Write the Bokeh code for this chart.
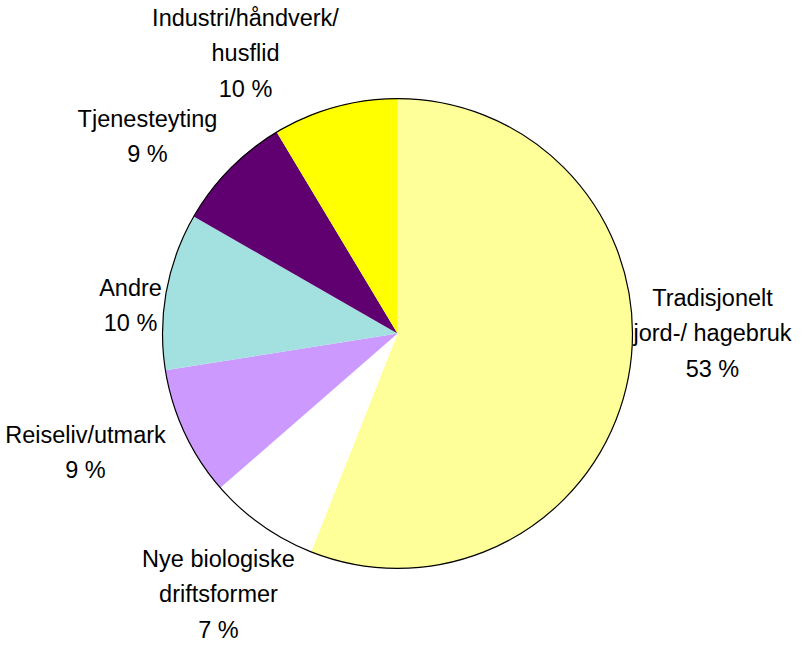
import math
from bokeh.plotting import figure
from bokeh.models import ColumnDataSource
from bokeh.core.properties import value
from bokeh.embed import file_html
from bokeh.resources import INLINE

# ---- data (clockwise from 12 o'clock) ----
categories = ["Tradisjonelt\njord-/ hagebruk", "Nye biologiske\ndriftsformer",
              "Reiseliv/utmark", "Andre", "Tjenesteyting", "Industri/håndverk/\nhusflid"]
shares = [56.0, 7.6, 8.9, 10.8, 8.1, 8.6]          # slice sizes as drawn
pct_labels = ["53 %", "7 %", "9 %", "10 %", "9 %", "10 %"]  # printed labels
colors = ["#FFFF99", "#FFFFFF", "#CC99FF", "#A3E0E0", "#600070", "#FFFF00"]

# ---- layout (pixel space of the figure) ----
W, H = 796, 643
cx, cy, R = 397, H - 333, 235
label_xy = [(712, H - 333), (218, H - 594), (85, H - 452),
            (130, H - 305), (147, H - 136), (245, H - 53)]

total = sum(shares)
starts, ends = [], []
cum = 0.0
for s in shares:
    starts.append(math.pi / 2 - 2 * math.pi * cum / total)
    cum += s
    ends.append(math.pi / 2 - 2 * math.pi * cum / total)

src = ColumnDataSource(dict(
    x=[cx] * len(shares), y=[cy] * len(shares),
    start=starts, end=ends, color=colors))

lab = ColumnDataSource(dict(
    x=[p[0] for p in label_xy], y=[p[1] for p in label_xy],
    text=[c + "\n" + t for c, t in zip(categories, pct_labels)]))

p = figure(width=W, height=H, x_range=(0, W), y_range=(0, H),
           output_backend="svg", toolbar_location=None,
           min_border=0, outline_line_color=None)
p.axis.visible = False
p.grid.visible = False
p.background_fill_color = "white"
p.border_fill_color = "white"

p.wedge(x="x", y="y", radius=R, start_angle="start", end_angle="end",
        direction="clock", fill_color="color", line_color=None, source=src)
p.circle(x=[cx], y=[cy], radius=R, fill_color=None, line_color="black",
         line_width=1.2)

p.text(x="x", y="y", text="text", source=lab, text_align="center",
       text_baseline="middle", text_font=value("Liberation Sans"),
       text_font_size="23.5px", text_color="black", text_line_height=1.36)

open("out.html", "w").write(file_html(p, INLINE))
